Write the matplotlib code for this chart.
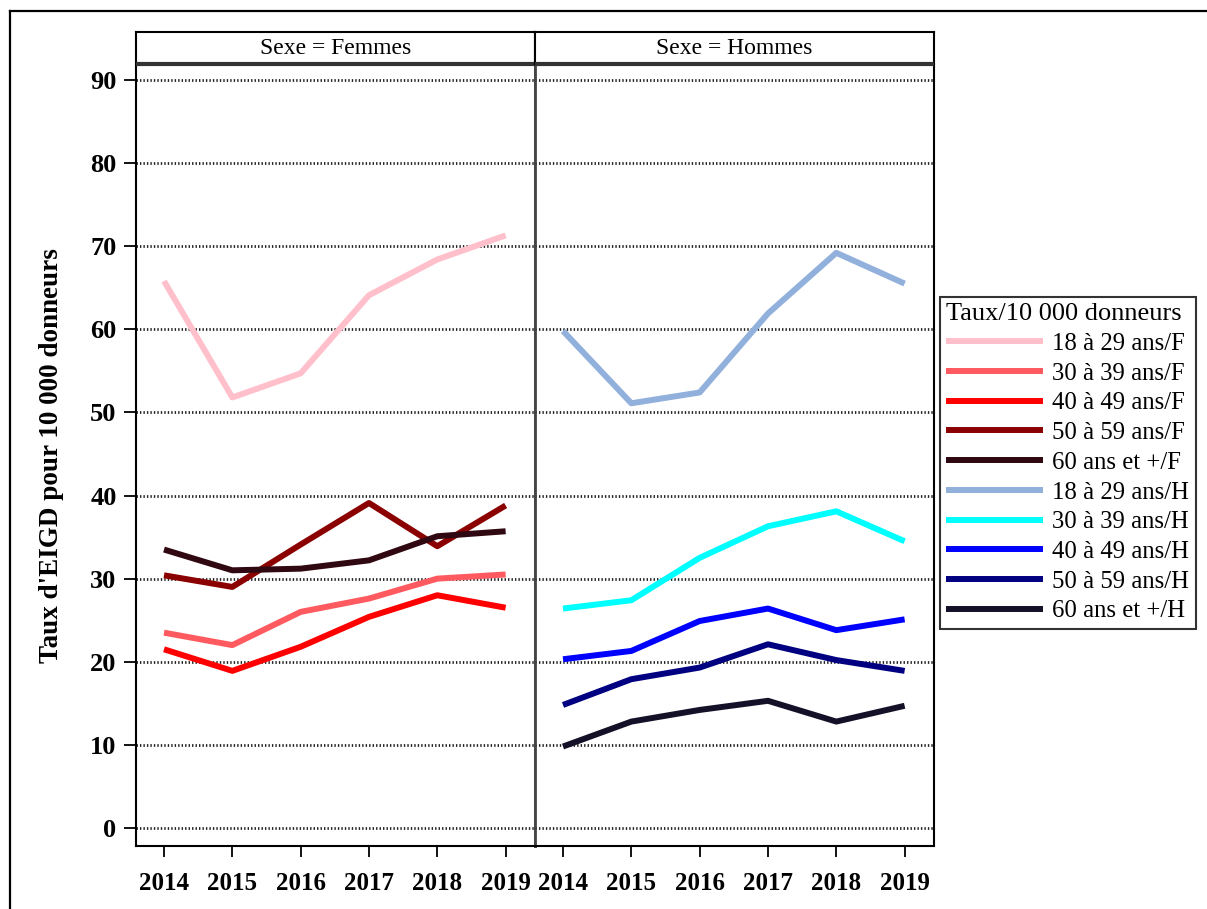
import numpy as np
import matplotlib.pyplot as plt
from matplotlib.lines import Line2D

plt.rcParams['font.family'] = ['Liberation Serif', 'DejaVu Serif']

years = [2014, 2015, 2016, 2017, 2018, 2019]

# taux d'EIGD pour 10 000 donneurs
femmes = {
    '18 à 29 ans/F': [65.8, 51.8, 54.7, 64.1, 68.4, 71.3],
    '30 à 39 ans/F': [23.5, 22.0, 26.0, 27.6, 30.0, 30.5],
    '40 à 49 ans/F': [21.5, 18.9, 21.8, 25.4, 28.0, 26.5],
    '50 à 59 ans/F': [30.4, 29.0, 34.1, 39.1, 33.9, 38.8],
    '60 ans et +/F': [33.5, 31.0, 31.2, 32.2, 35.1, 35.7],
}
hommes = {
    '18 à 29 ans/H': [59.8, 51.1, 52.4, 61.9, 69.2, 65.5],
    '30 à 39 ans/H': [26.4, 27.4, 32.5, 36.3, 38.1, 34.5],
    '40 à 49 ans/H': [20.3, 21.3, 24.9, 26.4, 23.8, 25.1],
    '50 à 59 ans/H': [14.8, 17.9, 19.3, 22.1, 20.2, 18.9],
    '60 ans et +/H': [9.8, 12.8, 14.2, 15.3, 12.8, 14.7],
}
colors_f = ['#FFC0CB', '#FF5A5F', '#FF0000', '#8B0000', '#300812']
colors_h = ['#91B0DC', '#00FFFF', '#0000FF', '#000080', '#141028']
panels = ['Sexe = Femmes', 'Sexe = Hommes']

fig = plt.figure(figsize=(12.07, 9.09), dpi=100)

W, H = 1207, 909
def box(x0, y0, x1, y1):
    return [x0 / W, 1 - y1 / H, (x1 - x0) / W, (y1 - y0) / H]

ax1 = fig.add_axes(box(136, 65, 535, 846))
ax2 = fig.add_axes(box(535, 65, 934, 846))
hd1 = fig.add_axes(box(136, 32, 535, 64))
hd2 = fig.add_axes(box(535, 32, 934, 64))

handles = []
for ax, data, cols in [(ax1, femmes, colors_f), (ax2, hommes, colors_h)]:
    for (lab, vals), c in zip(data.items(), cols):
        l, = ax.plot(years, vals, color=c, lw=4.3, solid_capstyle='butt', label=lab)
        handles.append(l)
    ax.set_xlim(2013.59, 2019.43)
    ax.set_ylim(-2.17, 91.8)
    ax.set_yticks(range(0, 91, 10))
    ax.set_xticks(years)
    ax.grid(axis='y', color='#222222', lw=2, linestyle=(0, (0.5, 0.75)))
    ax.set_axisbelow(True)
    for s in ax.spines.values():
        s.set_linewidth(1.5)
    ax.tick_params(axis='x', direction='out', length=8, width=1.3, pad=11,
                   labelsize=18)
    for t in ax.get_xticklabels():
        t.set_fontweight('bold')

ax1.tick_params(axis='y', direction='out', length=9, width=1.3, pad=5, labelsize=19)
for t in ax1.get_yticklabels():
    t.set_fontweight('bold')
ax2.tick_params(axis='y', left=False, labelleft=False)
ax1.spines['right'].set_color('#444444')
ax1.spines['right'].set_linewidth(2)
ax2.spines['left'].set_color('#444444')
ax2.spines['left'].set_linewidth(2)
ax2.spines['top'].set_visible(False)
ax1.spines['top'].set_visible(False)

ax1.set_ylabel("Taux d'EIGD pour 10 000 donneurs", fontsize=19.5, fontweight='bold',
               labelpad=19)

for hd, title in zip([hd1, hd2], panels):
    hd.set_xticks([])
    hd.set_yticks([])
    for s in hd.spines.values():
        s.set_linewidth(1.5)
    hd.spines['bottom'].set_linewidth(3)
    hd.spines['bottom'].set_color('#333333')
    hd.spines['bottom'].set_capstyle('butt')
    hd.text(0.5, 0.47, title, ha='center', va='center', fontsize=17,
            transform=hd.transAxes)

leg = fig.legend(handles=handles, loc='upper left', bbox_to_anchor=(940 / W, 1 - 297 / H),
                 borderaxespad=0, frameon=True, fancybox=False, fontsize=17.8,
                 title='Taux/10 000 donneurs', title_fontsize=19,
                 handlelength=3.9, handletextpad=0.4, labelspacing=0.3,
                 borderpad=0.25)
leg.get_frame().set_edgecolor('black')
leg.get_frame().set_linewidth(1.5)
leg._legend_box.align = 'left'

# cadre extérieur
fig.add_artist(Line2D([10 / W, 10 / W], [0, 1 - 11 / H], color='black', lw=1.6,
                      transform=fig.transFigure))
fig.add_artist(Line2D([10 / W, 1], [1 - 11 / H, 1 - 11 / H], color='black', lw=1.6,
                      transform=fig.transFigure))

fig.savefig('out.png', dpi=100)
